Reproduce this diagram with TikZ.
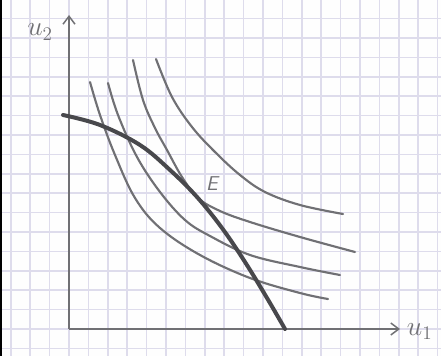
\documentclass[tikz,border=0pt]{standalone}
\usepackage{xcolor}
\usepackage{tikz}
\usetikzlibrary{arrows.meta, positioning}
\definecolor{GridLilac}{RGB}{222, 220, 236}
\definecolor{PencilGray}{RGB}{112, 112, 116}
\definecolor{PencilDark}{RGB}{72, 72, 76}

\begin{document}
\begin{tikzpicture}[x=0.75pt, y=-0.75pt,
    gridline/.style={draw=GridLilac, line width=1.2pt},
    pencil/.style={draw=PencilGray, line width=1.6pt, line cap=round},
    frontier/.style={draw=PencilDark, line width=3pt, line cap=round},
    axis/.style={draw=PencilGray, line width=1.1pt, -{Straight Barb[length=6pt, width=9pt]}},
    hand/.style={text=PencilGray, inner sep=1pt}]
  \useasboundingbox (0,0) rectangle (441,356);
  \fill[white!96!GridLilac] (0,0) rectangle (441,356);
  % squared paper
  \foreach \i in {-3,...,19}
    \draw[gridline] ({69+19.4*\i},0) -- ++(0,356);
  \foreach \j in {-1,...,16}
    \draw[gridline] (0,{329-19.4*\j}) -- ++(441,0);
  \draw[black, line width=2pt] (1,0) -- (1,356);
  % axes
  \coordinate (O) at (69,329);
  \coordinate (ytop) at (69,15);
  \coordinate (xend) at (400,329);
  \draw[axis] (O) -- (ytop);
  \draw[axis] (O) -- (xend);
  \node[hand, right=4pt of xend, yshift=-2pt] (u1) {\fontsize{20}{24}\selectfont $u_1$};
  \node[hand] (u2) at (40,32) {\fontsize{20}{24}\selectfont $u_2$};
  % indifference curves
  \draw[pencil] plot[smooth, tension=0.6] coordinates
    {(90,82) (100,115) (115,155) (135,198) (160,228) (200,255) (250,278) (300,293) (328,299)};
  \draw[pencil] plot[smooth, tension=0.6] coordinates
    {(108,83) (118,115) (137,157) (160,192) (185,220) (210,236) (250,255) (300,267) (340,275)};
  \draw[pencil] plot[smooth, tension=0.6] coordinates
    {(133,60) (143,100) (155,128) (167,150) (182,177) (198,198) (220,211) (250,222) (300,237) (355,252)};
  \draw[pencil] plot[smooth, tension=0.6] coordinates
    {(156,59) (172,97) (192,127) (215,152) (240,175) (265,192) (300,205) (343,214)};
  % utility frontier
  \draw[frontier] plot[smooth, tension=0.6] coordinates
    {(63,115) (100,125) (140,145) (170,170) (197,197) (222,228) (245,262) (267,298) (285,329)};
  \node[hand] (E) at (212,184) {\fontsize{15}{18}\selectfont\sffamily\itshape E};
\end{tikzpicture}
\end{document}
